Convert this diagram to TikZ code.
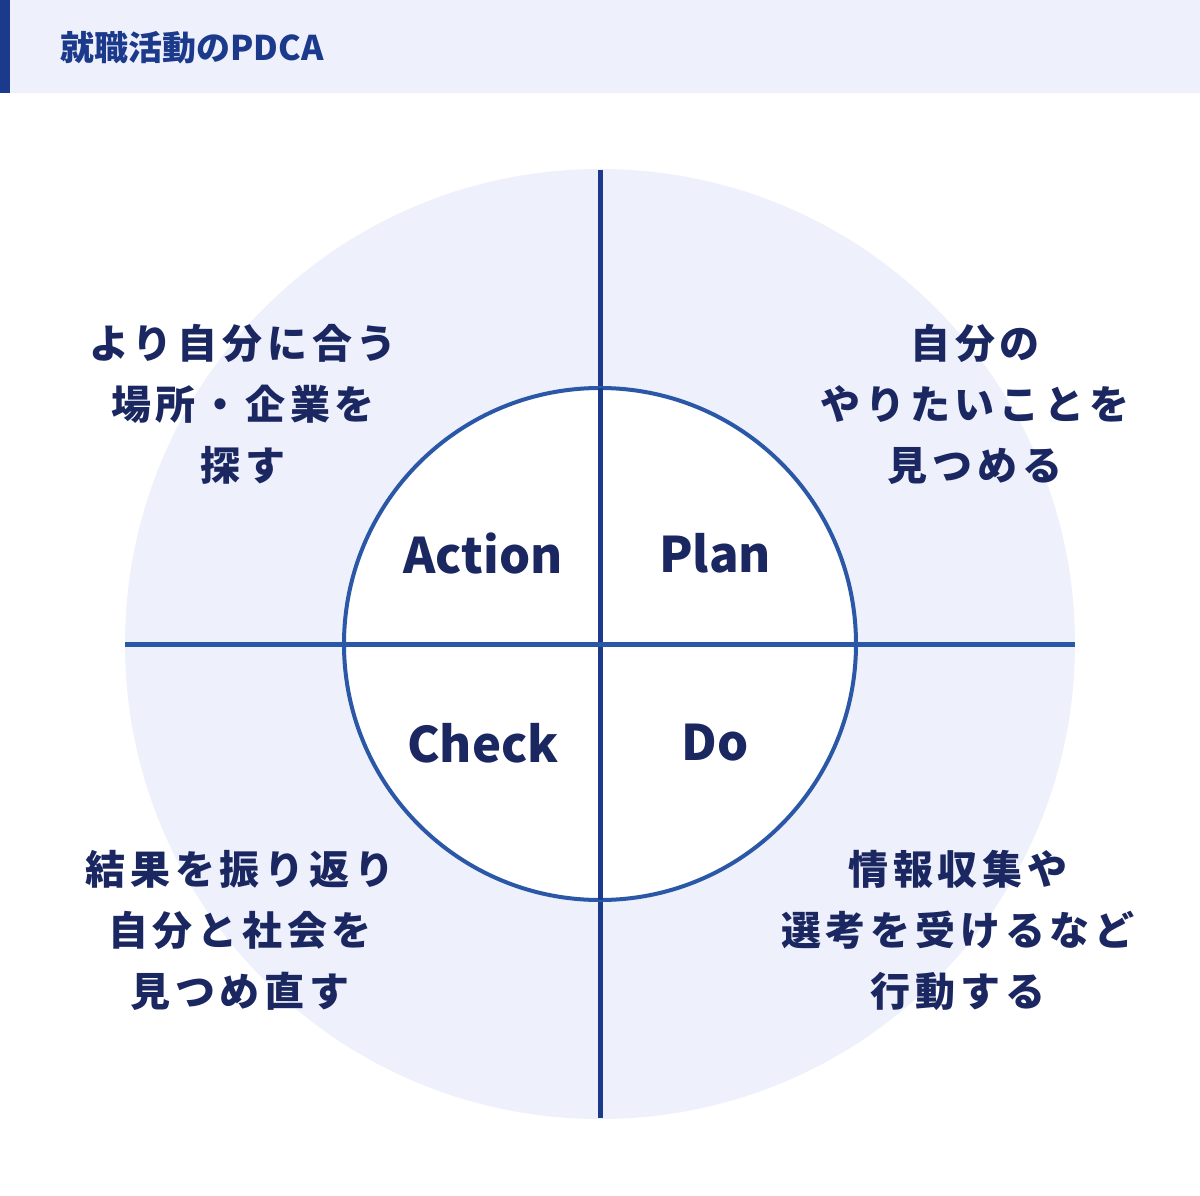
\documentclass[tikz,border=0pt]{standalone}
\usepackage{fontspec}
\newfontfamily\cjk{Noto Sans CJK JP}
\newfontfamily\cjksp[LetterSpace=12]{Noto Sans CJK JP}
\definecolor{band}{HTML}{EEF0FB}
\definecolor{navy}{HTML}{1C3A8C}
\definecolor{ring}{HTML}{2B58A6}
\definecolor{txt}{HTML}{1B2760}
\definecolor{bg}{HTML}{EEF1FC}
\tikzset{big/.style={font=\cjk\bfseries\fontsize{49}{56}\selectfont,text=txt},
 jp/.style={font=\cjksp\bfseries\fontsize{40}{61}\selectfont,text=txt,align=center}}
\begin{document}
\begin{tikzpicture}[x=1pt,y=-1pt]
\useasboundingbox (0,0) rectangle (1200,1196);
\fill[white] (0,0) rectangle (1200,1196);
\fill[band] (0,0) rectangle (1200,93);
\fill[navy] (0,0) rectangle (10,93);
\node[anchor=west,font=\cjk\bfseries\fontsize{34}{40}\selectfont,text=navy] (title) at (57,48) {就職活動のPDCA};
\fill[bg] (600,644) circle (475);
\draw[navy,line width=5] (600,170) -- (600,1118);
\draw[ring,line width=5] (125,644) -- (1075,644);
\draw[ring,line width=4,fill=white] (600,644) circle (256);
\draw[navy,line width=5] (600,388) -- (600,900);
\draw[ring,line width=5] (344,644) -- (856,644);
\node[big] (a) at (483,553) {Action};
\node[big] (p) at (715,553) {Plan};
\node[big] (c) at (483,743) {Check};
\node[big] (d) at (715,743) {Do};
\node[jp] (ta) at (243,404) {より自分に合う\\場所・企業を\\探す};
\node[jp] (tp) at (975,404) {自分の\\やりたいことを\\見つめる};
\node[jp] (tc) at (240,930) {結果を振り返り\\自分と社会を\\見つめ直す};
\node[jp] (td) at (958,930) {情報収集や\\選考を受けるなど\\行動する};
\end{tikzpicture}
\end{document}
